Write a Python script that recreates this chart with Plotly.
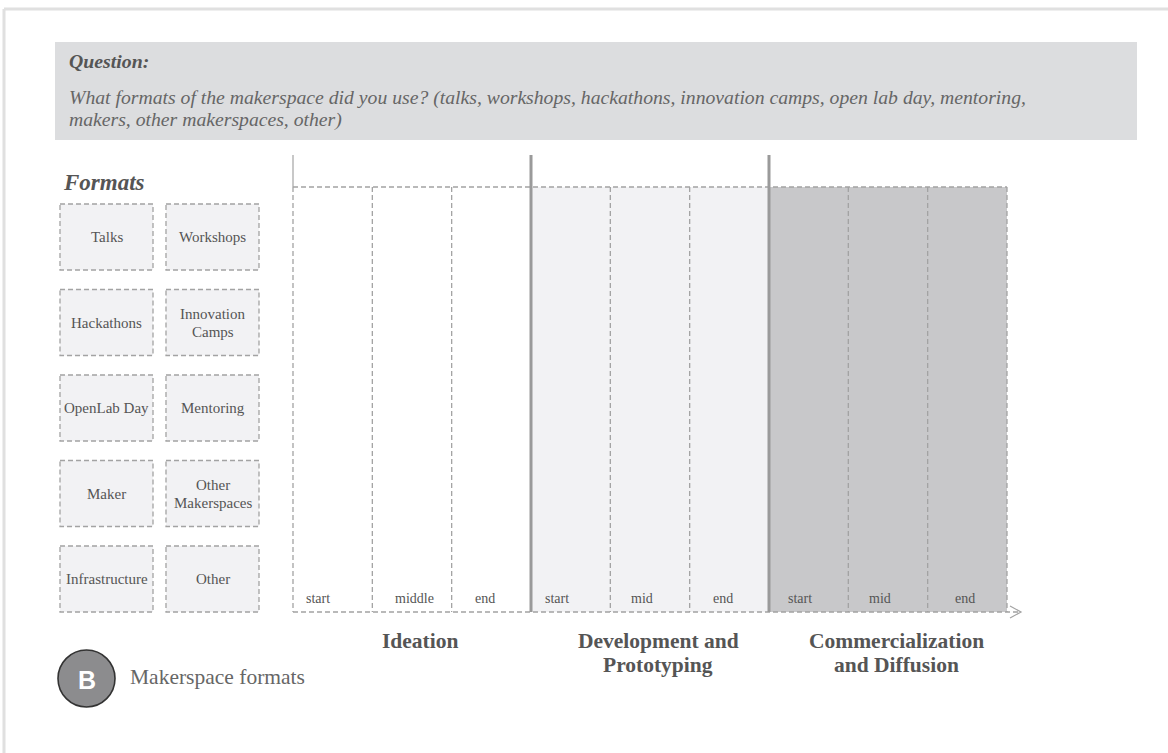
import plotly.graph_objects as go

W, H = 1168, 753

question_title = "Question:"
question_lines = [
    "What formats of the makerspace did you use? (talks, workshops, hackathons, innovation camps, open lab day, mentoring,",
    "makers, other makerspaces, other)",
]
formats_title = "Formats"
formats = [
    ["Talks", "Workshops"],
    ["Hackathons", "Innovation<br>Camps"],
    ["OpenLab Day", "Mentoring"],
    ["Maker", "Other<br>Makerspaces"],
    ["Infrastructure", "Other"],
]
phases = ["Ideation", "Development and<br>Prototyping", "Commercialization<br>and Diffusion"]
phase_fills = ["#ffffff", "#f2f2f4", "#c8c8ca"]
stages = [["start", "middle", "end"], ["start", "mid", "end"], ["start", "mid", "end"]]
badge_letter = "B"
badge_caption = "Makerspace formats"

# layout (pixel) settings
stage_label_x = [[318, 414, 485], [557, 642, 723], [800, 880, 965]]

SERIF = "Liberation Serif, Times New Roman, serif"
DASH = "5px,3px"
GRID = "#a3a3a3"

shapes = []
ann = []


def add_text(x, y, text, size, color, anchor="center", bold=False, italic=False, family=SERIF, lh=None):
    lines = text.split("<br>")
    lh = lh or size * 1.15
    y0 = y - lh * (len(lines) - 1) / 2
    for i, ln in enumerate(lines):
        t = ln
        if italic:
            t = "<i>" + t + "</i>"
        if bold:
            t = "<b>" + t + "</b>"
        ann.append(dict(x=x, y=y0 + i * lh, text=t, xanchor=anchor, yanchor="middle",
                        font=dict(family=family, size=size, color=color)))


# outer frame (top & left edges)
shapes.append(dict(type="line", x0=4, x1=W, y0=9, y1=9, line=dict(color="#e0e0e0", width=3)))
shapes.append(dict(type="line", x0=4, x1=4, y0=9, y1=H, line=dict(color="#e0e0e0", width=3)))

# question box
shapes.append(dict(type="rect", x0=55, x1=1137, y0=42, y1=140, fillcolor="#dcdddf", line=dict(width=0)))
add_text(67, 61, question_title, 19.8, "#555555", anchor="left", bold=True, italic=True)
for i, ln in enumerate(question_lines):
    add_text(67, 97 + 22 * i, ln, 19.7, "#666666", anchor="left", italic=True)

# formats panel
add_text(61, 182, formats_title, 23, "#555555", anchor="left", bold=True, italic=True)
col_x = [60, 166]
box_w, box_h = 93, 66
row_y0 = 204
row_step = 85.5
for r, row in enumerate(formats):
    for c, name in enumerate(row):
        x0 = col_x[c]
        y0 = row_y0 + r * row_step
        shapes.append(dict(type="rect", x0=x0, x1=x0 + box_w, y0=y0, y1=y0 + box_h, fillcolor="#f2f2f4",
                           line=dict(color=GRID, width=1.3, dash=DASH)))
        add_text(x0 + box_w / 2, y0 + box_h / 2, name, 15, "#555555", lh=18)

# timeline
tx0, tx1 = 293, 1007
ty_top, ty_bot = 187, 612
n_cells = sum(len(s) for s in stages)
cw = (tx1 - tx0) / n_cells
k = 0
for p, (ph, fill, st) in enumerate(zip(phases, phase_fills, stages)):
    px0 = tx0 + k * cw
    px1 = px0 + len(st) * cw
    shapes.append(dict(type="rect", x0=px0, x1=px1, y0=ty_top, y1=ty_bot, fillcolor=fill, line=dict(width=0),
                       layer="below"))
    for j, s in enumerate(st):
        add_text(stage_label_x[p][j], 598, s, 14, "#555555")
    nl = ph.count("<br>")
    add_text((px0 + px1) / 2 + 8, 641 + 12 * nl, ph, 21.5, "#555555", bold=True, lh=24)
    k += len(st)

# dashed verticals
for i in range(n_cells + 1):
    x = tx0 + i * cw
    if i in (3, 6):
        continue
    shapes.append(dict(type="line", x0=x, x1=x, y0=ty_top, y1=ty_bot, line=dict(color=GRID, width=1.3, dash=DASH)))
# top dashed line
shapes.append(dict(type="line", x0=tx0, x1=tx1, y0=ty_top, y1=ty_top, line=dict(color=GRID, width=1.3, dash=DASH)))
# bottom axis dashed
shapes.append(dict(type="line", x0=tx0, x1=1020, y0=ty_bot, y1=ty_bot, line=dict(color=GRID, width=1.3, dash=DASH)))
shapes.append(dict(type="path", path="M1010,606 L1021,612 L1010,618", line=dict(color=GRID, width=1.2)))
# left solid tick
shapes.append(dict(type="line", x0=tx0, x1=tx0, y0=155, y1=ty_top, line=dict(color=GRID, width=1.2)))
# phase separators
for i in (3, 6):
    x = tx0 + i * cw
    shapes.append(dict(type="line", x0=x, x1=x, y0=155, y1=ty_bot, line=dict(color="#9a9a9a", width=3)))

# badge
shapes.append(dict(type="circle", x0=58, x1=115, y0=650, y1=707, fillcolor="#8c8c8e",
                   line=dict(color="#333333", width=1.6)))
add_text(86.5, 680, badge_letter, 25, "#ffffff", bold=True, family="Liberation Sans, Arial, sans-serif")
add_text(128, 677, badge_caption, 21.5, "#666666", anchor="left")

for a in ann:
    a.update(showarrow=False, xref="x", yref="y")
for s in shapes:
    s.update(xref="x", yref="y")

fig = go.Figure()
fig.update_layout(
    width=W, height=H, margin=dict(l=0, r=0, t=0, b=0),
    paper_bgcolor="white", plot_bgcolor="white",
    xaxis=dict(range=[0, W], visible=False, fixedrange=True),
    yaxis=dict(range=[H, 0], visible=False, fixedrange=True),
    shapes=shapes, annotations=ann, showlegend=False,
)
fig.write_html("out.html", config={"displayModeBar": False, "staticPlot": True},
               post_script="document.body.style.margin='0';document.body.style.overflow='hidden';")
